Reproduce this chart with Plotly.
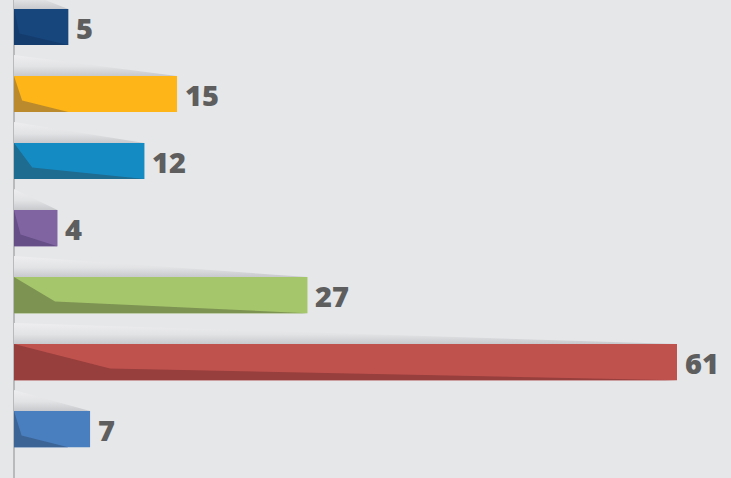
import plotly.graph_objects as go

# values read top to bottom
values = [5, 15, 12, 4, 27, 61, 7]
labels = ["5", "15", "12", "4", "27", "61", "7"]
colors = ["#17467d", "#fdb517", "#158bc4", "#8064a2", "#a6c66c", "#c0524e", "#4a7fbf"]
dark_colors = ["#143d6d", "#bb8a2c", "#1e6c90", "#654f86", "#7c9352", "#973f3d", "#3c6596"]

# decorative shading (fraction of bar for the knee, end of dark wedge in units)
knee_frac = [0.1, 0.05, 0.14, 0.15, 0.14, 0.145, 0.1]
shade_end = [5, 5, 12, 4, 27, 61, 5]

bar_w = 0.54
half = bar_w / 2
wedge_h = 0.313

fig = go.Figure()

idx = list(range(len(values)))

# grey wedge "shadow" above each bar
for i, v in enumerate(values):
    top = i - half
    fig.add_trace(go.Scatter(
        x=[0, v, v, 0, 0],
        y=[top - wedge_h, top - 0.01, top, top, top - wedge_h],
        fill="toself", mode="lines", line=dict(width=0),
        fillgradient=dict(type="vertical",
                          colorscale=[[0, "#c8c9cc"], [0.45, "#e2e3e5"], [1, "#eeeef0"]]),
        hoverinfo="skip", showlegend=False))

fig.add_trace(go.Bar(
    x=values, y=idx, orientation="h", width=bar_w,
    marker=dict(color=colors, line=dict(width=0)),
    hoverinfo="skip", showlegend=False))

# darker bottom-left facet on each bar
for i, v in enumerate(values):
    top = i - half
    bot = i + half
    fig.add_trace(go.Scatter(
        x=[0, knee_frac[i] * v, shade_end[i], 0, 0],
        y=[top, top + 0.68 * bar_w, bot, bot, top],
        fill="toself", mode="lines", line=dict(width=0),
        fillcolor=dark_colors[i], hoverinfo="skip", showlegend=False))

for i, v in enumerate(values):
    fig.add_annotation(x=v, y=i, text=labels[i], showarrow=False,
                       xanchor="left", yanchor="middle", xshift=6,
                       font=dict(family="Open Sans", size=29, color="#5e5e5e", weight=800))

px_per_unit = 663 / 61
fig.update_layout(
    width=731, height=478,
    margin=dict(l=0, r=0, t=0, b=0),
    paper_bgcolor="#e6e7e9", plot_bgcolor="#e6e7e9",
    hovermode=False,
    xaxis=dict(range=[-14 / px_per_unit, 717 / px_per_unit], showgrid=False,
               showticklabels=False, ticks="", zeroline=True,
               zerolinecolor="#b9babc", zerolinewidth=2),
    yaxis=dict(range=[6.73, -0.403], showgrid=False, showticklabels=False,
               ticks="", zeroline=False),
)

fig.write_html("out.html", config={"displayModeBar": False},
               post_script="document.body.style.margin='0';")
